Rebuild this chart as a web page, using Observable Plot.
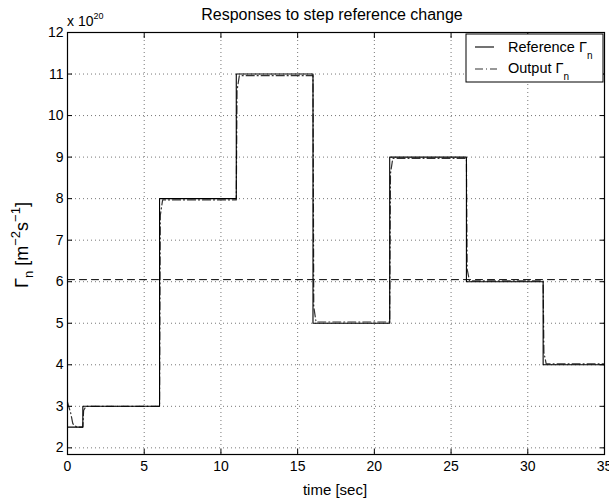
<!DOCTYPE html>
<html>
<head>
<meta charset="utf-8">
<script src="https://cdn.jsdelivr.net/npm/d3@7"></script>
<script src="https://cdn.jsdelivr.net/npm/@observablehq/plot@0.6"></script>
<style>
  html, body { margin: 0; padding: 0; background: #fff; }
  svg { font-family: "Liberation Sans", Arial, Helvetica, sans-serif; }
</style>
</head>
<body>
<div id="chart"></div>
<script>
// Reference Γn (step signal), units of 1e20 m^-2 s^-1
const refT = [0, 1, 1, 6, 6, 11, 11, 16, 16, 21, 21, 26, 26, 31, 31, 35];
const refY = [2.5, 2.5, 3, 3, 8, 8, 11, 11, 5, 5, 9, 9, 6, 6, 4, 4];
// Output Γn (controlled response)
const outT = [0, 0.2, 0.35, 0.6, 1.0, 1.05, 1.2, 6.0, 6.05, 6.2, 11.0, 11.05, 11.2, 16.0, 16.05, 16.2, 21.0, 21.05, 21.2, 26.0, 26.05, 26.2, 31.0, 31.05, 31.2, 35];
const outY = [3.1, 2.85, 2.58, 2.5, 2.5, 2.9, 3.0, 3.0, 7.6, 7.97, 7.97, 10.6, 10.96, 10.96, 5.4, 5.03, 5.03, 8.6, 8.97, 8.97, 6.3, 6.02, 6.02, 4.3, 4.02, 4.02];
// Horizontal dashed level
const levelT = [0, 35];
const levelY = [6.05, 6.05];
const xTicks = [0, 5, 10, 15, 20, 25, 30, 35];
const yTicks = [2, 3, 4, 5, 6, 7, 8, 9, 10, 11, 12];

const refData = refT.map((t, i) => ({t, y: refY[i]}));
const outData = outT.map((t, i) => ({t, y: outY[i]}));
const levelData = levelT.map((t, i) => ({t, y: levelY[i]}));

const W = 609, H = 502;
const plot = Plot.plot({
  width: W, height: H,
  marginLeft: 67, marginRight: 5, marginTop: 32, marginBottom: 48,
  style: {fontFamily: '"Liberation Sans", Arial, Helvetica, sans-serif', fontSize: "13px", background: "white", color: "black"},
  x: {domain: [0, 35]},
  y: {domain: [1.84, 12]},
  marks: [
    Plot.gridX(xTicks, {stroke: "#555", strokeOpacity: 0.8, strokeDasharray: "1,3"}),
    Plot.gridY(yTicks, {stroke: "#555", strokeOpacity: 0.8, strokeDasharray: "1,3"}),
    Plot.line(levelData, {x: "t", y: "y", stroke: "black", strokeWidth: 1, strokeDasharray: "7,5"}),
    Plot.line(outData, {x: "t", y: "y", stroke: "#333", strokeWidth: 1.2, strokeDasharray: "8,3,1,3"}),
    Plot.line(refData, {x: "t", y: "y", stroke: "black", strokeWidth: 1.1}),
    Plot.axisX(xTicks, {anchor: "bottom", tickSize: -5, tickPadding: 12, label: null, fontSize: 14}),
    Plot.axisX(xTicks, {anchor: "top", tickSize: -5, tickFormat: () => "", label: null}),
    Plot.axisY(yTicks, {anchor: "left", tickSize: -5, tickPadding: 9, label: null, fontSize: 14}),
    Plot.axisY(yTicks, {anchor: "right", tickSize: -5, tickFormat: () => "", label: null}),
    Plot.frame({stroke: "black", strokeWidth: 1.2})
  ]
});
document.getElementById("chart").appendChild(plot);

const svg = d3.select(plot);
const ff = '"Liberation Sans", Arial, Helvetica, sans-serif';
// Title
svg.append("text").attr("x", 332).attr("y", 20).attr("text-anchor", "middle")
  .attr("font-family", ff).attr("font-size", 16).text("Responses to step reference change");
// Exponent
const ex = svg.append("text").attr("x", 67).attr("y", 26).attr("text-anchor", "start")
  .attr("font-family", ff).attr("font-size", 14);
ex.append("tspan").text("x 10");
ex.append("tspan").attr("dy", -7).attr("font-size", 9).text("20");
// x label
svg.append("text").attr("x", 335).attr("y", 495).attr("text-anchor", "middle")
  .attr("font-family", ff).attr("font-size", 15).text("time [sec]");
// y label
const yl = svg.append("text").attr("transform", "translate(28,245) rotate(-90)")
  .attr("text-anchor", "middle").attr("font-family", ff).attr("font-size", 18);
yl.append("tspan").text("Γ");
yl.append("tspan").attr("dy", 5).attr("font-size", 13).text("n");
yl.append("tspan").attr("dy", -5).text(" [m");
yl.append("tspan").attr("dy", -8).attr("font-size", 13).text("−2");
yl.append("tspan").attr("dy", 8).text("s");
yl.append("tspan").attr("dy", -8).attr("font-size", 13).text("−1");
yl.append("tspan").attr("dy", 8).text("]");
// Legend
const lg = svg.append("g");
lg.append("rect").attr("x", 466).attr("y", 34).attr("width", 137).attr("height", 48)
  .attr("fill", "white").attr("stroke", "black").attr("stroke-width", 1);
lg.append("line").attr("x1", 475).attr("x2", 494).attr("y1", 47).attr("y2", 47)
  .attr("stroke", "black").attr("stroke-width", 1.1);
lg.append("line").attr("x1", 475).attr("x2", 497).attr("y1", 69).attr("y2", 69)
  .attr("stroke", "#333").attr("stroke-width", 1.2).attr("stroke-dasharray", "8,3,1,3");
const t1 = lg.append("text").attr("x", 508).attr("y", 52).attr("text-anchor", "start")
  .attr("font-family", ff).attr("font-size", 14.5);
t1.append("tspan").text("Reference Γ");
t1.append("tspan").attr("dy", 7).attr("font-size", 10).text("n");
const t2 = lg.append("text").attr("x", 508).attr("y", 73).attr("text-anchor", "start")
  .attr("font-family", ff).attr("font-size", 14.5);
t2.append("tspan").text("Output Γ");
t2.append("tspan").attr("dy", 7).attr("font-size", 10).text("n");
</script>
</body>
</html>
